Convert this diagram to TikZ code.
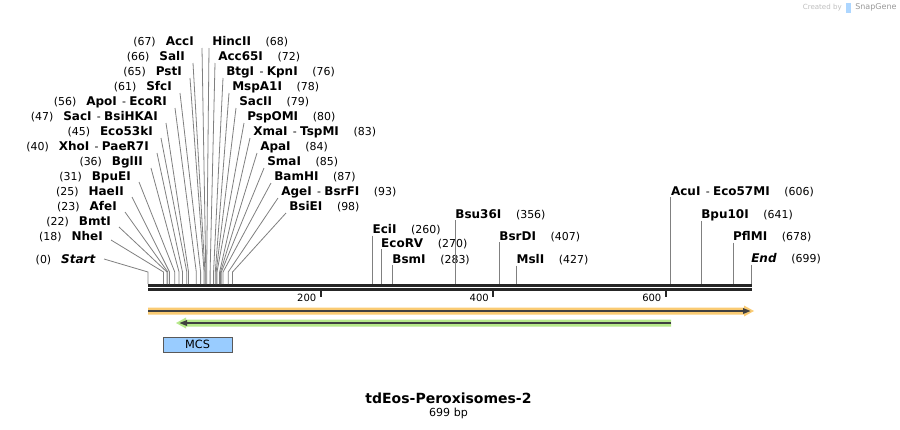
\documentclass[tikz,border=0pt]{standalone}
\usepackage{fontspec}
\setmainfont{DejaVu Sans}
\usetikzlibrary{calc}

\definecolor{featorange}{RGB}{250,203,115}
\definecolor{featgreen}{RGB}{182,233,138}
\definecolor{featdark}{RGB}{64,64,64}
\definecolor{mcsblue}{RGB}{153,204,255}
\definecolor{cutgray}{RGB}{128,128,128}

\newcommand{\enz}[1]{\textbf{#1}}
\newcommand{\cutpos}[1]{{\fontsize{8.2pt}{9pt}\selectfont(#1)}}
\newcommand{\gapl}{\hspace{7.5pt}}
\newcommand{\gapr}{\hspace{11pt}}
\newcommand{\enzsep}{\hspace{4pt}{\fontsize{8.2pt}{9pt}\selectfont-}\hspace{2.5pt}}

\begin{document}
\begin{tikzpicture}[
 x=0.75pt, y=-0.75pt,
 lbl/.style={inner sep=0pt, font=\fontsize{9pt}{10pt}\selectfont},
 cutline/.style={draw=cutgray, line width=0.6pt},
 seqbar/.style={draw=black!85, line width=2pt},
 scaletick/.style={draw=black!85, line width=1.5pt},
 featline/.style={draw=featdark, line width=1.5pt},
 mcsbox/.style={draw=black!65,fill=mcsblue,rectangle,line width=0.6pt,
   minimum width=51.75pt,minimum height=11.25pt,inner sep=0pt,
   font=\fontsize{8.5pt}{9pt}\selectfont}
]
\fill[white] (0,0) rectangle (900,429);
\useasboundingbox (0,0) rectangle (900,429);

% credit
\node (credit-a) [anchor=east,inner sep=0pt,text=black!25,font=\fontsize{5.3pt}{6pt}\selectfont] at (842,7.5) {Created by};
\fill[mcsblue!80] (845.5,3) rectangle (850.5,12.5);
\node (credit-b) [anchor=west,inner sep=0pt,text=black!40,font=\fontsize{6pt}{7pt}\selectfont] at (855,7.5) {SnapGene};

% sequence
\coordinate (seq-a1) at (148,285.3);
\coordinate (seq-b1) at (751.5,285.3);
\coordinate (seq-a2) at (148,289.3);
\coordinate (seq-b2) at (751.5,289.3);
\draw[seqbar] (seq-a1) -- (seq-b1);
\draw[seqbar] (seq-a2) -- (seq-b2);

% scale
\foreach \k in {200,400,600}{
  \coordinate (tick-top-\k) at ({148+0.8627*\k},290.5);
  \coordinate (tick-bot-\k) at ({148+0.8627*\k},297);
  \draw[scaletick] (tick-top-\k) -- (tick-bot-\k);
  \node (tick-lbl-\k) [anchor=east,inner sep=0pt,font=\fontsize{7.5pt}{8pt}\selectfont] at ({144+0.8627*\k},297.5) {\k};
}

% left fan
\foreach \p/\xe/\y/\dy/\txt [count=\i] in {
  67/194/42/6/{\cutpos{67}\gapl\enz{AccI}},
  66/185/57/6/{\cutpos{66}\gapl\enz{SalI}},
  65/182/72/6/{\cutpos{65}\gapl\enz{PstI}},
  61/172/87/6/{\cutpos{61}\gapl\enz{SfcI}},
  56/167/102/6/{\cutpos{56}\gapl\enz{ApoI}\enzsep\enz{EcoRI}},
  47/158/117/6/{\cutpos{47}\gapl\enz{SacI}\enzsep\enz{BsiHKAI}},
  45/153/132/6/{\cutpos{45}\gapl\enz{Eco53kI}},
  40/149/147/6/{\cutpos{40}\gapl\enz{XhoI}\enzsep\enz{PaeR7I}},
  36/143/162/6/{\cutpos{36}\gapl\enz{BglII}},
  31/131/177/5/{\cutpos{31}\gapl\enz{BpuEI}},
  25/124/192/5/{\cutpos{25}\gapl\enz{HaeII}},
  23/117/207/5/{\cutpos{23}\gapl\enz{AfeI}},
  22/111/222/5/{\cutpos{22}\gapl\enz{BmtI}},
  18/103/237/3/{\cutpos{18}\gapl\enz{NheI}},
  0/96/260/-1/{\cutpos{0}\gapl\textbf{\textit{Start}}}}{
  \node (left-\i) [lbl,anchor=east] at (\xe,\y) {\txt};
  \coordinate (left-cut-\i) at ({148+0.8627*\p},272);
  \coordinate (left-bar-\i) at ({148+0.8627*\p},284);
  \draw[cutline] ([shift={(8,\dy)}]left-\i.east) -- (left-cut-\i) -- (left-bar-\i);
}

% right fan
\foreach \p/\xs/\y/\txt [count=\i] in {
  68/212/42/{\enz{HincII}\gapr\cutpos{68}},
  72/218/57/{\enz{Acc65I}\gapr\cutpos{72}},
  76/226/72/{\enz{BtgI}\enzsep\enz{KpnI}\gapr\cutpos{76}},
  78/232/87/{\enz{MspA1I}\gapr\cutpos{78}},
  79/239/102/{\enz{SacII}\gapr\cutpos{79}},
  80/247/117/{\enz{PspOMI}\gapr\cutpos{80}},
  83/253/132/{\enz{XmaI}\enzsep\enz{TspMI}\gapr\cutpos{83}},
  84/260/147/{\enz{ApaI}\gapr\cutpos{84}},
  85/267/162/{\enz{SmaI}\gapr\cutpos{85}},
  87/274/177/{\enz{BamHI}\gapr\cutpos{87}},
  93/281/192/{\enz{AgeI}\enzsep\enz{BsrFI}\gapr\cutpos{93}},
  98/289/207/{\enz{BsiEI}\gapr\cutpos{98}}}{
  \node (right-\i) [lbl,anchor=west] at (\xs,\y) {\txt};
  \coordinate (right-cut-\i) at ({148+0.8627*\p},272);
  \coordinate (right-bar-\i) at ({148+0.8627*\p},284);
  \draw[cutline] ([shift={(-3,6)}]right-\i.west) -- (right-cut-\i) -- (right-bar-\i);
}

% single sites
\foreach \p/\y/\txt [count=\i] in {
  260/230/{\enz{EciI}\gapr\cutpos{260}},
  270/244/{\enz{EcoRV}\gapr\cutpos{270}},
  283/260/{\enz{BsmI}\gapr\cutpos{283}},
  356/215/{\enz{Bsu36I}\gapr\cutpos{356}},
  407/237/{\enz{BsrDI}\gapr\cutpos{407}},
  427/260/{\enz{MslI}\gapr\cutpos{427}},
  606/192/{\enz{AcuI}\enzsep\enz{Eco57MI}\gapr\cutpos{606}},
  641/215/{\enz{Bpu10I}\gapr\cutpos{641}},
  678/237/{\enz{PflMI}\gapr\cutpos{678}},
  699/259/{\textbf{\textit{End}}\gapr\cutpos{699}}}{
  \node (site-\i) [lbl,anchor=west] at ({148+0.8627*\p},\y) {\txt};
  \coordinate (site-bar-\i) at ({148+0.8627*\p},284);
  \draw[cutline] (site-\i.south west) -- (site-bar-\i);
}

% features
\fill[featorange] (148,307.5) -- (744,307.5) -- (744,305.5) -- (754,311)
  -- (744,316.5) -- (744,314.5) -- (148,314.5) -- cycle;
\coordinate (orange-a) at (148,311);
\coordinate (orange-b) at (745,311);
\draw[featline] (orange-a) -- (orange-b);
\fill[featdark] (743,308) -- (750.5,311) -- (743,314) -- cycle;

\fill[featgreen] (671,319.5) -- (186,319.5) -- (186,317.5) -- (176,323)
  -- (186,328.5) -- (186,326.5) -- (671,326.5) -- cycle;
\coordinate (green-a) at (671,323);
\coordinate (green-b) at (185,323);
\draw[featline] (green-a) -- (green-b);
\fill[featdark] (187,320) -- (179.5,323) -- (187,326) -- cycle;

\node (mcs) [mcsbox] at (197.5,344.5) {MCS};

% title
\node (map-title) [inner sep=0pt,font=\bfseries\fontsize{10.5pt}{12pt}\selectfont] at (448.5,398) {tdEos-Peroxisomes-2};
\node (map-size) [inner sep=0pt,font=\fontsize{8.3pt}{9pt}\selectfont] at (448.5,413) {699 bp};
\end{tikzpicture}
\end{document}
